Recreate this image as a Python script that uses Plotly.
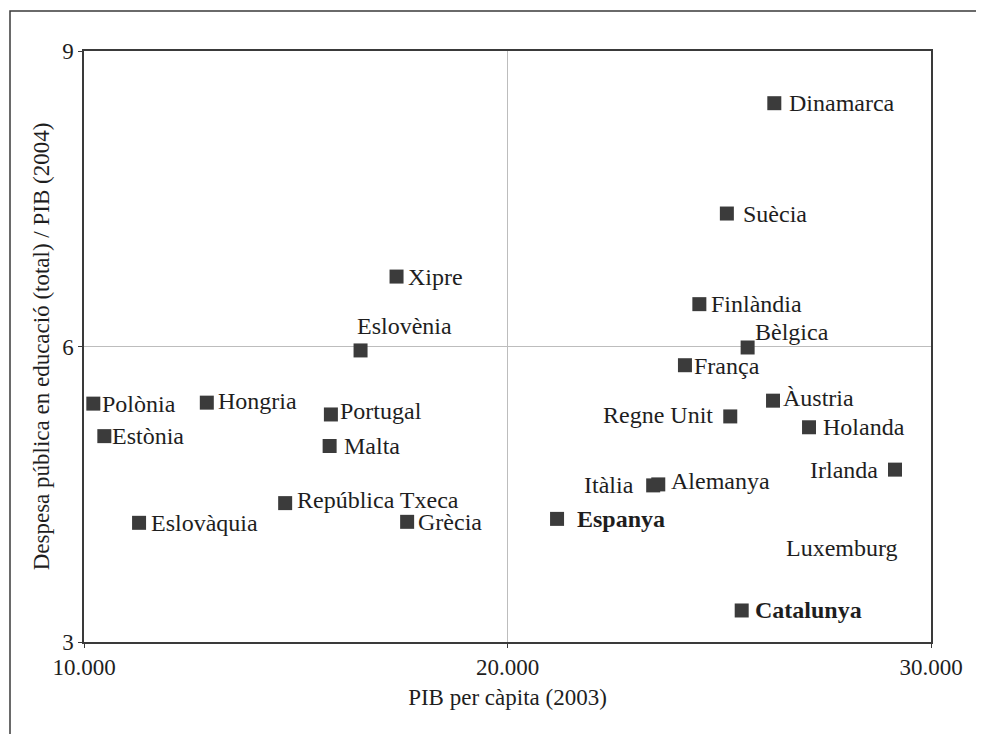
import plotly.graph_objects as go

# ---- data ----
countries = ["Dinamarca", "Suècia", "Finlàndia", "Bèlgica", "França", "Àustria",
             "Regne Unit", "Holanda", "Irlanda", "Alemanya", "Itàlia", "Espanya",
             "Luxemburg", "Catalunya", "Polònia", "Hongria", "Portugal", "Estònia",
             "Malta", "República Txeca", "Eslovàquia", "Grècia", "Xipre", "Eslovènia"]
gdp_pc_2003 = [26300, 25180, 24530, 25670, 24190, 26270,
               25260, 27120, 29150, 23560, 23440, 21170,
               48000, 25530, 10220, 12900, 15830, 10480,
               15800, 14750, 11300, 17630, 17380, 16530]
edu_pib_2004 = [8.47, 7.35, 6.43, 5.99, 5.81, 5.45,
                5.29, 5.18, 4.75, 4.60, 4.59, 4.25,
                3.95, 3.32, 5.42, 5.43, 5.31, 5.09,
                4.99, 4.41, 4.21, 4.22, 6.71, 5.96]
bold_labels = ["Espanya", "Catalunya"]
x_ticks = [10000, 20000, 30000]
x_ticklabels = ["10.000", "20.000", "30.000"]
y_ticks = [3, 6, 9]
y_ticklabels = ["3", "6", "9"]
x_title = "PIB per càpita (2003)"
y_title = "Despesa pública en educació (total) / PIB (2004)"

X_RANGE = [10000, 30000]
Y_RANGE = [3, 9]

# ---- label placement (style only): xanchor, x shift px, y shift px ----
label_style = {
    "Dinamarca": ("left", 13, 0), "Suècia": ("left", 14, 0),
    "Finlàndia": ("left", 10, 0), "Bèlgica": ("left", 5, 15),
    "França": ("left", 7, -1), "Àustria": ("left", 8, 3),
    "Regne Unit": ("right", -15, 1), "Holanda": ("left", 12, 0),
    "Irlanda": ("right", -15, 0), "Alemanya": ("left", 11, 3),
    "Itàlia": ("right", -17, 0), "Espanya": ("left", 18, 0),
    "Luxemburg": ("right", -31, 0), "Catalunya": ("left", 11, 0),
    "Polònia": ("left", 7, 0), "Hongria": ("left", 9, 2),
    "Portugal": ("left", 7, 3), "Estònia": ("left", 6, 0),
    "Malta": ("left", 12, 0), "República Txeca": ("left", 10, 3),
    "Eslovàquia": ("left", 10, 0), "Grècia": ("left", 9, 0),
    "Xipre": ("left", 9, 0), "Eslovènia": ("left", -6, 24),
}

FONT = "Liberation Serif, Times New Roman, serif"
TXT = "#1e1e1e"
FRAME = "#3a3a3a"
LABEL_SIZE = 24
AXIS_SIZE = 23

fig = go.Figure()
fig.add_trace(go.Scatter(
    x=gdp_pc_2003, y=edu_pib_2004, mode="markers",
    marker=dict(symbol="square", size=14, color="#3b3b3b", line=dict(width=0)),
    hovertext=countries, showlegend=False, cliponaxis=True,
))

annotations = []
for name, gx, ey in zip(countries, gdp_pc_2003, edu_pib_2004):
    xa, dx, dy = label_style[name]
    ax_x = min(max(gx, X_RANGE[0]), X_RANGE[1])
    txt = f"<b>{name}</b>" if name in bold_labels else name
    annotations.append(dict(
        x=ax_x, y=ey, xref="x", yref="y", text=txt, showarrow=False,
        xanchor=xa, yanchor="middle", xshift=dx, yshift=dy,
        font=dict(family=FONT, size=LABEL_SIZE, color=TXT),
    ))

# page has an 8px body margin: figure is placed at (8, 8)
W, H = 976, 726
L, R, T, B = 76, 53, 43, 92
pw, ph = W - L - R, H - T - B
def px2paper_x(px):
    return (px - L) / pw
def px2paper_y(py):
    return (H - B - py) / ph

fig.update_layout(
    width=W, height=H,
    margin=dict(l=L, r=R, t=T, b=B, pad=0),
    paper_bgcolor="white", plot_bgcolor="white",
    font=dict(family=FONT, size=AXIS_SIZE, color=TXT),
    annotations=annotations,
    shapes=[dict(type="rect", xref="paper", yref="paper",
                 x0=px2paper_x(2), x1=px2paper_x(1000),
                 y0=px2paper_y(760), y1=px2paper_y(3),
                 line=dict(color=FRAME, width=1.5), layer="below")],
    xaxis=dict(range=X_RANGE, tickvals=x_ticks, ticktext=x_ticklabels,
               showgrid=True, gridcolor="#bdbdbd", gridwidth=1,
               showline=True, mirror=True, linecolor=FRAME, linewidth=1.5,
               ticks="outside", ticklen=4, tickcolor=FRAME, zeroline=False,
               tickfont=dict(family=FONT, size=AXIS_SIZE, color=TXT),
               title=dict(text=x_title, font=dict(family=FONT, size=AXIS_SIZE, color=TXT), standoff=10)),
    yaxis=dict(range=Y_RANGE, tickvals=y_ticks, ticktext=y_ticklabels,
               showgrid=True, gridcolor="#bdbdbd", gridwidth=1,
               showline=True, mirror=True, linecolor=FRAME, linewidth=1.5,
               ticks="outside", ticklen=4, tickcolor=FRAME, zeroline=False,
               tickfont=dict(family=FONT, size=AXIS_SIZE, color=TXT),
               title=dict(text=y_title, font=dict(family=FONT, size=AXIS_SIZE, color=TXT), standoff=6)),
)

fig.write_html("out.html")
